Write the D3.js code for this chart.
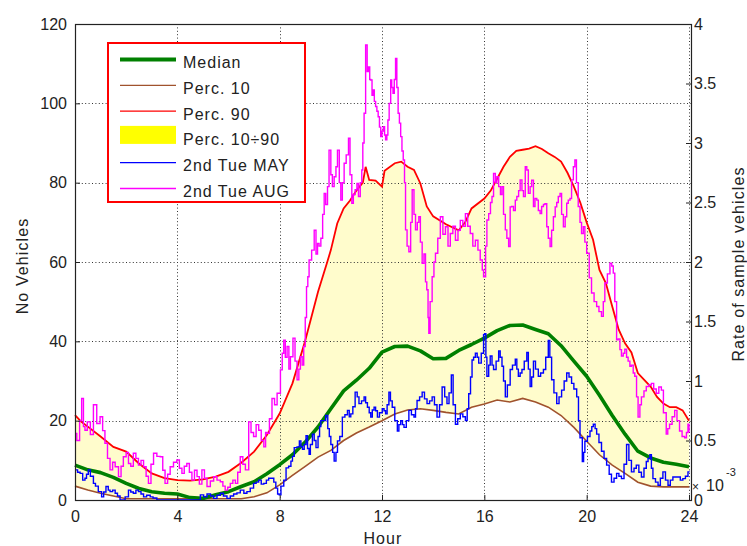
<!DOCTYPE html>
<html>
<head>
<meta charset="utf-8">
<script src="https://cdn.jsdelivr.net/npm/d3@7"></script>
<style>
  html, body { margin: 0; padding: 0; background: #fff; }
  svg { display: block; font-family: "Liberation Sans", Arial, sans-serif; }
</style>
</head>
<body>
<svg id="chart" width="747" height="546"></svg>
<script>
// ---- data: [hour, vehicles] ----
const median = [[0,8.8],[0.5,7.6],[1,6.9],[1.5,5.7],[2,4.2],[2.5,2.9],[3,2.1],[3.5,1.7],[4,1.5],[4.5,0.6],[5,0.4],[5.5,1.3],[6,2.1],[6.5,3.4],[7,4.6],[7.5,6.6],[8,8.9],[8.5,11.4],[9,14.6],[9.5,18.4],[10,23.0],[10.5,27.5],[11,30.2],[11.5,33.2],[12,37.3],[12.5,38.7],[13,38.8],[13.5,37.6],[14,35.6],[14.5,35.7],[15,37.7],[15.5,39.2],[16,40.8],[16.5,42.7],[17,44.0],[17.5,44.1],[18,43.0],[18.5,41.9],[19,38.9],[19.5,35.0],[20,31.2],[20.5,26.4],[21,21.3],[21.5,16.6],[22,12.3],[22.5,10.6],[23,9.5],[23.5,9.0],[24,8.4]];

const perc10 = [[0,3.5],[0.5,2.5],[1,1.7],[1.5,1.0],[2,0.3],[2.5,0.3],[3,0.3],[3.5,0.3],[4,0.3],[4.5,0.3],[5,0.3],[5.5,0.3],[6,0.3],[6.5,0.3],[7,0.8],[7.5,1.8],[8,3.8],[8.5,6.2],[9,8.5],[9.5,10.8],[10,12.5],[10.5,15.0],[11,16.9],[11.5,18.4],[12,20.0],[12.5,21.7],[13,22.7],[13.5,23.0],[14,22.6],[14.5,22.1],[15,21.7],[15.5,23.4],[16,24.2],[16.5,25.2],[17,24.7],[17.5,25.6],[18,24.7],[18.5,23.4],[19,21.3],[19.5,18.3],[20,14.8],[20.5,11.4],[21,8.8],[21.5,6.7],[22,4.5],[22.5,3.5],[23,3.3],[23.5,3.3],[24,3.3]];

const perc90 = [[0,21.4],[0.25,19.7],[0.5,18.5],[1,16.0],[1.5,13.4],[2,12.2],[2.5,9.2],[3,6.7],[3.5,5.5],[4,5.0],[4.5,4.9],[5,5.2],[5.5,5.9],[6,7.1],[6.5,9.4],[7,12.2],[7.5,16.4],[8,21.8],[8.5,29.4],[9,40.2],[9.5,52.5],[9.86,60.0],[10,63.0],[10.25,69.7],[10.5,73.5],[10.75,75.5],[11,78.0],[11.25,80.0],[11.36,84.0],[11.5,80.7],[11.75,80.5],[12,79.0],[12.1,83.0],[12.5,84.9],[12.75,85.3],[13,84.0],[13.25,83.2],[13.5,79.8],[13.75,74.0],[14,71.5],[14.5,69.5],[15,68.0],[15.25,70.0],[15.5,73.5],[16,76.0],[16.25,78.0],[16.5,81.0],[16.75,84.0],[17,86.5],[17.25,88.0],[17.5,88.3],[17.75,88.6],[18,89.2],[18.25,88.5],[18.5,87.4],[18.75,86.5],[19,85.3],[19.25,82.5],[19.5,79.0],[19.75,75.0],[20,70.0],[20.25,65.6],[20.5,58.0],[20.75,54.7],[21,48.8],[21.25,43.0],[21.5,39.5],[21.75,37.2],[22,32.0],[22.25,30.3],[22.5,28.6],[22.75,26.0],[23,24.3],[23.25,23.4],[23.5,23.4],[23.75,22.6],[24,20.0]];

const tueMay = [[0,7.6],[0.1,7.0],[0.2,6.7],[0.3,5.0],[0.39,5.5],[0.45,6.5],[0.52,7.6],[0.6,6.0],[0.72,4.2],[0.8,3.5],[0.91,2.1],[1.04,0.8],[1.12,2.0],[1.21,3.4],[1.3,2.5],[1.37,2.1],[1.47,2.5],[1.57,1.7],[1.66,1.0],[1.76,0.0],[1.86,0.0],[1.96,0.8],[2.09,2.5],[2.18,2.0],[2.28,1.7],[2.38,2.5],[2.48,2.1],[2.58,1.5],[2.68,0.8],[2.8,1.2],[2.94,0.8],[3.05,0.5],[3.2,0.0],[4.8,0.0],[4.9,1.3],[5.03,0.8],[5.16,1.5],[5.3,1.0],[5.42,0.4],[5.55,1.2],[5.68,1.7],[5.8,1.0],[5.94,0.4],[6.07,1.0],[6.2,1.5],[6.33,1.8],[6.46,2.5],[6.6,1.7],[6.72,2.1],[6.85,3.0],[6.98,4.2],[7.08,4.5],[7.18,5.0],[7.28,4.0],[7.38,4.2],[7.48,5.0],[7.57,5.5],[7.67,5.5],[7.77,4.5],[7.85,3.0],[7.92,1.5],[7.98,1.3],[8.05,3.5],[8.16,5.0],[8.25,8.1],[8.35,8.5],[8.44,9.8],[8.5,11.0],[8.57,13.2],[8.68,13.4],[8.77,14.9],[8.83,13.5],[8.89,12.8],[8.96,14.0],[9.03,16.2],[9.09,13.0],[9.15,11.5],[9.2,14.0],[9.28,16.6],[9.35,15.0],[9.42,13.2],[9.5,16.0],[9.56,18.5],[9.61,20.0],[9.7,20.0],[9.8,21.3],[9.88,18.0],[9.94,16.0],[10,14.0],[10.07,12.0],[10.13,9.8],[10.2,12.0],[10.26,14.9],[10.35,16.0],[10.45,20.9],[10.55,21.5],[10.65,22.6],[10.72,21.0],[10.78,21.7],[10.86,23.5],[10.95,27.2],[11.03,26.0],[11.1,24.3],[11.2,25.0],[11.3,26.0],[11.36,24.5],[11.43,23.4],[11.5,22.0],[11.56,20.9],[11.62,22.7],[11.69,23.4],[11.75,22.5],[11.82,20.9],[11.9,22.0],[12.01,23.0],[12.08,22.5],[12.14,21.7],[12.2,24.0],[12.27,27.2],[12.33,25.0],[12.4,23.4],[12.5,20.0],[12.6,17.4],[12.66,19.0],[12.73,20.0],[12.8,19.0],[12.86,18.3],[12.95,20.0],[13.05,22.6],[13.15,21.5],[13.25,20.9],[13.31,23.0],[13.37,25.1],[13.47,26.0],[13.57,27.2],[13.66,25.5],[13.76,24.3],[13.86,25.0],[13.96,26.0],[14.05,24.0],[14.15,20.9],[14.25,24.0],[14.35,28.5],[14.45,26.0],[14.54,24.3],[14.62,27.0],[14.71,31.5],[14.78,24.0],[14.87,19.1],[14.96,20.5],[15.06,21.7],[15.16,21.0],[15.26,20.0],[15.33,23.0],[15.39,26.8],[15.46,31.0],[15.52,35.3],[15.58,36.0],[15.65,37.0],[15.72,36.0],[15.78,34.5],[15.88,37.0],[15.97,41.7],[16.01,41.9],[16.06,36.0],[16.1,31.2],[16.17,34.0],[16.23,36.3],[16.3,34.0],[16.36,32.9],[16.46,35.0],[16.56,37.6],[16.62,36.0],[16.69,33.7],[16.75,30.0],[16.82,26.0],[16.9,29.0],[17.01,32.9],[17.1,34.0],[17.21,35.5],[17.27,33.0],[17.33,31.2],[17.4,32.0],[17.47,32.9],[17.56,35.0],[17.66,37.2],[17.72,33.0],[17.79,28.6],[17.85,31.0],[17.92,35.0],[18,33.0],[18.11,31.2],[18.2,32.0],[18.31,32.9],[18.4,36.0],[18.5,40.2],[18.56,36.0],[18.63,30.3],[18.72,27.0],[18.83,24.3],[18.92,26.0],[19.02,27.7],[19.12,30.0],[19.22,32.0],[19.31,31.0],[19.41,29.4],[19.5,28.0],[19.61,26.0],[19.68,20.0],[19.74,15.7],[19.83,9.7],[19.88,12.0],[19.93,14.8],[20.03,16.0],[20.13,17.4],[20.2,18.5],[20.26,19.1],[20.33,18.0],[20.39,16.6],[20.48,14.5],[20.58,12.3],[20.68,10.5],[20.78,8.8],[20.88,6.5],[20.97,4.5],[21.07,5.5],[21.17,6.7],[21.26,6.0],[21.36,5.4],[21.46,9.0],[21.56,14.0],[21.65,10.0],[21.75,7.1],[21.85,8.0],[21.94,8.8],[22.04,7.0],[22.14,5.8],[22.24,8.0],[22.33,9.7],[22.4,10.5],[22.47,11.4],[22.53,8.0],[22.59,5.4],[22.69,4.5],[22.79,3.7],[22.88,5.5],[22.98,7.1],[23.08,5.0],[23.18,3.7],[23.27,5.0],[23.37,5.8],[23.47,5.8],[23.57,5.8],[23.66,5.0],[23.76,5.4],[23.86,6.0],[23.96,7.1],[24,7.0]];

const tueAug = [[0,16.8],[0.07,15.0],[0.18,20.0],[0.26,25.6],[0.33,18.5],[0.39,17.6],[0.48,19.7],[0.6,16.5],[0.72,24.0],[0.85,19.3],[0.98,21.0],[1.08,17.5],[1.17,14.3],[1.27,10.5],[1.37,7.6],[1.47,9.5],[1.57,8.4],[1.7,5.9],[1.8,8.5],[1.89,10.9],[2,12.0],[2.09,9.2],[2.18,8.5],[2.28,11.8],[2.38,10.5],[2.48,8.8],[2.58,10.0],[2.68,8.4],[2.78,6.0],[2.87,4.2],[2.97,9.0],[3.07,11.8],[3.2,11.0],[3.33,10.9],[3.43,7.5],[3.52,4.2],[3.62,6.5],[3.72,8.4],[3.85,9.5],[3.98,10.1],[4.08,8.0],[4.18,6.7],[4.27,8.5],[4.37,9.2],[4.47,7.0],[4.57,5.0],[4.67,7.5],[4.77,5.9],[4.86,4.0],[4.96,7.6],[5.06,5.5],[5.16,3.4],[5.29,4.8],[5.42,5.9],[5.55,5.0],[5.68,4.6],[5.78,3.5],[5.87,2.5],[5.97,3.2],[6.07,4.2],[6.17,5.0],[6.27,4.2],[6.36,7.0],[6.46,10.9],[6.56,9.0],[6.66,7.6],[6.79,19.7],[6.88,17.0],[6.98,16.0],[7.08,19.0],[7.18,17.6],[7.28,15.0],[7.38,13.4],[7.45,17.0],[7.51,16.8],[7.6,20.5],[7.7,25.6],[7.8,24.0],[7.9,26.9],[8.03,32.8],[8.1,37.0],[8.16,40.3],[8.22,36.0],[8.29,38.7],[8.36,33.0],[8.42,36.1],[8.52,40.8],[8.6,35.0],[8.68,30.3],[8.75,33.0],[8.81,36.1],[8.88,34.0],[8.94,38.7],[9,46.0],[9.05,53.8],[9.1,56.3],[9.15,60.5],[9.25,63.0],[9.35,68.0],[9.42,62.0],[9.48,64.7],[9.54,64.0],[9.61,66.0],[9.68,72.0],[9.74,77.3],[9.8,74.5],[9.87,79.0],[9.93,88.2],[10,82.0],[10.06,79.0],[10.13,81.5],[10.2,84.0],[10.26,88.2],[10.33,80.0],[10.39,75.6],[10.45,80.0],[10.52,84.9],[10.6,87.0],[10.69,91.2],[10.75,82.0],[10.82,74.8],[10.88,77.0],[10.95,78.2],[11.02,79.8],[11.08,76.5],[11.15,80.0],[11.21,83.2],[11.25,90.0],[11.3,97.5],[11.36,114.7],[11.42,108.0],[11.47,109.2],[11.52,106.0],[11.56,105.9],[11.61,102.0],[11.65,103.4],[11.7,100.5],[11.75,99.2],[11.8,98.0],[11.85,96.6],[11.9,94.0],[11.95,91.6],[12,93.0],[12.05,94.1],[12.1,92.0],[12.14,90.8],[12.19,92.0],[12.23,95.8],[12.28,100.0],[12.34,105.9],[12.38,104.0],[12.43,102.5],[12.48,106.0],[12.53,111.3],[12.58,104.0],[12.63,97.5],[12.68,95.0],[12.73,91.6],[12.78,88.0],[12.83,85.7],[12.88,80.0],[12.92,68.1],[12.98,64.0],[13.05,62.6],[13.12,70.0],[13.18,78.2],[13.25,72.0],[13.31,68.1],[13.38,70.0],[13.44,71.4],[13.5,65.0],[13.57,59.7],[13.64,62.0],[13.7,55.0],[13.75,53.0],[13.8,46.0],[13.83,42.0],[13.88,50.0],[13.96,56.3],[14.03,60.0],[14.09,62.2],[14.18,66.0],[14.28,71.4],[14.38,67.0],[14.48,68.9],[14.58,64.0],[14.67,67.2],[14.77,69.0],[14.87,65.5],[14.97,68.0],[15.06,70.5],[15.16,69.0],[15.26,72.2],[15.35,69.0],[15.45,67.2],[15.55,64.0],[15.65,65.5],[15.75,63.0],[15.84,60.5],[15.92,58.0],[15.97,56.3],[16.05,64.0],[16.1,70.6],[16.17,72.2],[16.24,75.0],[16.3,76.5],[16.36,82.3],[16.43,80.0],[16.49,81.5],[16.56,79.0],[16.63,77.0],[16.69,79.0],[16.75,72.0],[16.82,68.1],[16.88,66.0],[16.95,63.9],[17.01,73.9],[17.07,74.0],[17.14,73.0],[17.21,75.6],[17.27,76.5],[17.34,78.0],[17.4,80.7],[17.47,78.0],[17.53,76.5],[17.6,84.0],[17.66,83.2],[17.72,77.3],[17.79,79.0],[17.85,80.6],[17.92,74.0],[17.98,76.0],[18.05,75.6],[18.11,73.0],[18.18,72.2],[18.24,74.0],[18.31,74.5],[18.37,74.7],[18.44,68.9],[18.5,66.0],[18.57,63.9],[18.63,68.0],[18.7,71.4],[18.77,73.9],[18.83,75.0],[18.89,76.5],[18.96,77.3],[19.02,72.0],[19.09,68.9],[19.16,71.4],[19.22,74.8],[19.28,75.6],[19.35,76.0],[19.41,80.7],[19.48,84.0],[19.54,85.7],[19.6,80.0],[19.67,74.0],[19.74,70.0],[19.8,67.2],[19.87,68.9],[19.93,65.0],[20,62.2],[20.1,56.0],[20.19,52.2],[20.29,50.0],[20.39,48.8],[20.48,47.5],[20.58,46.3],[20.65,50.0],[20.71,54.7],[20.81,57.0],[20.91,59.7],[20.98,59.0],[21.04,57.2],[21.1,50.0],[21.17,40.4],[21.23,40.6],[21.3,37.9],[21.36,36.3],[21.43,37.0],[21.49,38.0],[21.56,36.0],[21.62,35.0],[21.69,33.7],[21.75,34.0],[21.82,32.0],[21.88,31.2],[21.95,26.0],[22.01,20.9],[22.08,24.0],[22.14,26.0],[22.24,27.5],[22.33,28.6],[22.43,29.0],[22.53,29.4],[22.62,28.0],[22.72,26.9],[22.82,28.5],[22.92,27.7],[23,22.0],[23.11,16.6],[23.17,18.0],[23.24,19.1],[23.34,21.0],[23.44,22.6],[23.53,20.0],[23.63,17.4],[23.73,16.0],[23.83,15.7],[23.9,17.0],[23.96,19.1],[24,17.0]];

// ---- ticks and labels ----
const hourTicks = [0, 4, 8, 12, 16, 20, 24];
const vehicleTicks = [0, 20, 40, 60, 80, 100, 120];
const rateTicks = [0, 0.5, 1, 1.5, 2, 2.5, 3, 3.5, 4];
const legendLabels = ["Median", "Perc. 10", "Perc. 90", "Perc. 10\u00F790", "2nd Tue MAY", "2nd Tue AUG"];

// ---- setup ----
const svg = d3.select("#chart");
const plotLeft = 75, plotRight = 691, plotTop = 24, plotBottom = 500;
const x = d3.scaleLinear().domain([0, 24]).range([plotLeft, 689]);
const y = d3.scaleLinear().domain([0, 120]).range([plotBottom, plotTop]);
const yRate = d3.scaleLinear().domain([0, 4]).range([plotBottom, plotTop]);

const colors = {
  median: "#008000",
  p10: "#a0522d",
  p90: "#ff0000",
  band: "#fffccc",
  may: "#0000ff",
  aug: "#ff00ff"
};

svg.append("rect").attr("width", 747).attr("height", 546).attr("fill", "#fff");

// percentile band: upper edge forward, lower edge back
const bandLine = d3.line().x(d => x(d[0])).y(d => y(d[1]));
svg.append("path")
  .attr("d", bandLine(perc90.concat(perc10.slice().reverse())) + "Z")
  .attr("fill", colors.band)
  .attr("stroke", "none");

// dotted grid
const grid = svg.append("g").attr("stroke", "#333").attr("stroke-width", 1)
  .attr("stroke-dasharray", "1,2.4");
grid.selectAll("line.v").data(hourTicks.filter(d => d > 0)).join("line")
  .attr("class", "v")
  .attr("x1", d => Math.round(x(d)) + 0.5).attr("x2", d => Math.round(x(d)) + 0.5)
  .attr("y1", plotTop).attr("y2", plotBottom);
grid.selectAll("line.h").data(vehicleTicks.filter(d => d > 0 && d < 120)).join("line")
  .attr("class", "h")
  .attr("y1", d => Math.round(y(d)) + 0.5).attr("y2", d => Math.round(y(d)) + 0.5)
  .attr("x1", plotLeft).attr("x2", plotRight);

// series lines
const line = d3.line().x(d => x(d[0])).y(d => y(d[1]));
const stepLine = d3.line().x(d => x(d[0])).y(d => y(d[1])).curve(d3.curveStepAfter);

svg.append("path").attr("d", line(perc10)).attr("fill", "none")
  .attr("stroke", colors.p10).attr("stroke-width", 1.6);
svg.append("path").attr("d", line(perc90)).attr("fill", "none")
  .attr("stroke", colors.p90).attr("stroke-width", 1.8);
svg.append("path").attr("d", line(median)).attr("fill", "none")
  .attr("stroke", colors.median).attr("stroke-width", 3.6).attr("stroke-linejoin", "round");
svg.append("path").attr("d", stepLine(tueMay)).attr("fill", "none")
  .attr("stroke", colors.may).attr("stroke-width", 1.4);
svg.append("path").attr("d", stepLine(tueAug)).attr("fill", "none")
  .attr("stroke", colors.aug).attr("stroke-width", 1.4);

// frame
svg.append("rect").attr("x", plotLeft + 0.5).attr("y", plotTop + 0.5)
  .attr("width", plotRight - plotLeft).attr("height", plotBottom - plotTop)
  .attr("fill", "none").attr("stroke", "#222").attr("stroke-width", 1.2);

// axes (ticks point inward)
const styleAxis = g => {
  g.select(".domain").remove();
  g.selectAll(".tick line").attr("stroke", "#222");
  g.selectAll(".tick text").attr("fill", "#222").attr("font-size", 16)
    .attr("font-family", "'Liberation Sans', Arial, sans-serif");
};
svg.append("g").attr("transform", `translate(${plotLeft},0)`)
  .call(d3.axisLeft(y).tickValues(vehicleTicks).tickSize(-5).tickPadding(8))
  .call(styleAxis);
svg.append("g").attr("transform", `translate(0,${plotBottom})`)
  .call(d3.axisBottom(x).tickValues(hourTicks).tickSize(-5).tickPadding(10.5))
  .call(styleAxis);
svg.append("g").attr("transform", `translate(${plotRight},0)`)
  .call(d3.axisRight(yRate).tickValues(rateTicks).tickSize(-5).tickPadding(3)
    .tickFormat(d => d % 1 ? d.toFixed(1) : String(d)))
  .call(styleAxis);

// axis titles
const title = (txt, tx, ty, rot) => svg.append("text")
  .attr("transform", `translate(${tx},${ty}) rotate(${rot})`)
  .attr("text-anchor", "middle").attr("font-size", 16).attr("fill", "#222")
  .attr("letter-spacing", 1.1).text(txt);
title("Hour", 383, 544, 0);
title("No Vehicles", 28, 266, -90);
title("Rate of sample vehicles", 744, 264, -90);

// exponent of the rate axis
const expo = svg.append("text").attr("x", 692).attr("y", 491).attr("fill", "#222");
expo.append("tspan").attr("font-size", 12).text("\u00D7");
expo.append("tspan").attr("font-size", 16).attr("x", 706).text("10");
svg.append("text").attr("x", 726).attr("y", 476).attr("font-size", 11)
  .attr("fill", "#222").text("-3");

// legend
const lg = svg.append("g");
lg.append("rect").attr("x", 108).attr("y", 43).attr("width", 197).attr("height", 159)
  .attr("fill", "#fff").attr("stroke", "#ff0000").attr("stroke-width", 2);
const legendStyles = [
  { type: "line", color: colors.median, width: 4 },
  { type: "line", color: colors.p10, width: 1.3 },
  { type: "line", color: colors.p90, width: 1.3 },
  { type: "patch", color: "#ffff00" },
  { type: "line", color: colors.may, width: 1.3 },
  { type: "line", color: colors.aug, width: 1.3 }
];
legendLabels.forEach((lab, i) => {
  const base = 68 + i * 25.8;
  const st = legendStyles[i];
  if (st.type === "line") {
    lg.append("line").attr("x1", 120).attr("x2", 176)
      .attr("y1", base - 8.5).attr("y2", base - 8.5)
      .attr("stroke", st.color).attr("stroke-width", st.width);
  } else {
    lg.append("rect").attr("x", 120).attr("y", base - 19.5).attr("width", 56).attr("height", 18)
      .attr("fill", st.color);
  }
  lg.append("text").attr("x", 183).attr("y", base).attr("font-size", 16)
    .attr("fill", "#222").attr("letter-spacing", 1).text(lab);
});
</script>
</body>
</html>
